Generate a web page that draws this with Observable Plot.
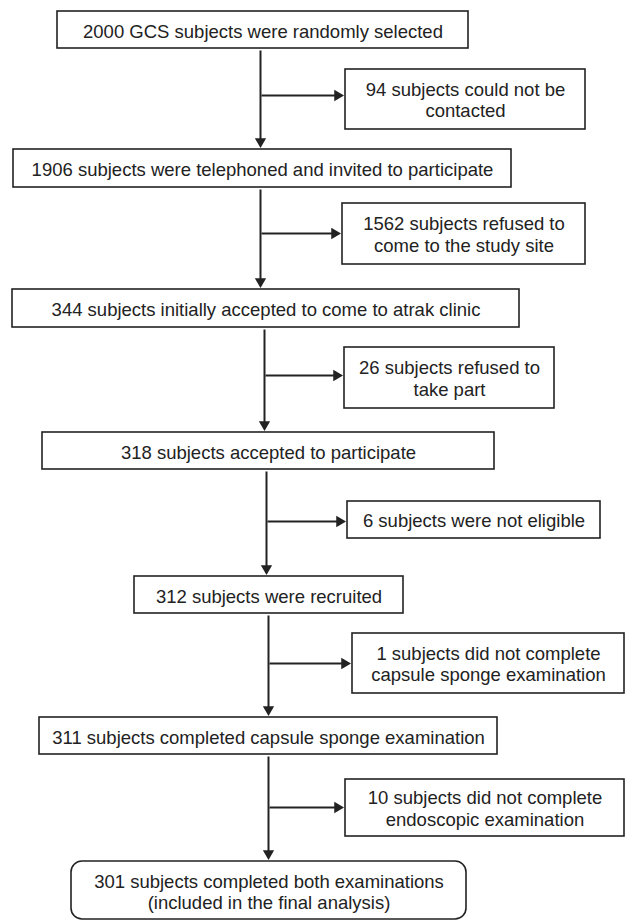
<!DOCTYPE html>
<html>
<head>
<meta charset="utf-8">
<script src="https://cdn.jsdelivr.net/npm/d3@7"></script>
<script src="https://cdn.jsdelivr.net/npm/@observablehq/plot@0.6"></script>
<style>
  html, body { margin: 0; padding: 0; background: #ffffff; }
  svg { display: block; }
</style>
</head>
<body>
<div id="chart"></div>
<script>
// ---- data: flow counts and descriptions ----
const mainCounts = [2000, 1906, 344, 318, 312, 311, 301];
const mainText = [
  "GCS subjects were randomly selected",
  "subjects were telephoned and invited to participate",
  "subjects initially accepted to come to atrak clinic",
  "subjects accepted to participate",
  "subjects were recruited",
  "subjects completed capsule sponge examination",
  "subjects completed both examinations\n(included in the final analysis)"
];
const exclCounts = [94, 1562, 26, 6, 1, 10];
const exclText = [
  "subjects could not be\ncontacted",
  "subjects refused to\ncome to the study site",
  "subjects refused to\ntake part",
  "subjects were not eligible",
  "subjects did not complete\ncapsule sponge examination",
  "subjects did not complete\nendoscopic examination"
];

// ---- layout (page pixel frame) ----
const mainLayout = [
  [57, 468, 11, 48],
  [13, 511, 149, 187],
  [12, 519, 289, 327],
  [42, 494, 432, 469],
  [134, 403, 576, 613],
  [39, 497, 717, 754],
  [71, 466, 861, 919]
];
const exclLayout = [
  [345, 585, 69, 129],
  [342, 585, 203, 264],
  [344, 554, 347, 408],
  [347, 600, 501, 538],
  [352, 624, 633, 693],
  [345, 624, 779, 836]
];
const trunkX = [260, 260, 264, 266, 268, 268];
const branchY = [95, 233, 375, 521, 663, 807];

const W = 625, H = 922;
const headLen = 6;

const mainBoxes = mainCounts.map((c, i) => ({
  label: c + " " + mainText[i],
  x1: mainLayout[i][0], x2: mainLayout[i][1], y1: mainLayout[i][2], y2: mainLayout[i][3],
  final: i === mainCounts.length - 1
}));
const exclBoxes = exclCounts.map((c, i) => ({
  label: c + " " + exclText[i],
  x1: exclLayout[i][0], x2: exclLayout[i][1], y1: exclLayout[i][2], y2: exclLayout[i][3]
}));
const trunks = trunkX.map((x, i) => ({
  x, y1: mainBoxes[i].y2 + 2, y2: mainBoxes[i + 1].y1 - 2
}));
const branches = branchY.map((y, i) => ({
  y, x1: trunkX[i] + 1, x2: exclBoxes[i].x1 - 2
}));

const font = "'Liberation Sans', Arial, Helvetica, sans-serif";
const ink = "#222";

const chart = Plot.plot({
  width: W,
  height: H,
  margin: 0,
  x: {domain: [0, W], range: [0, W], axis: null},
  y: {domain: [0, H], range: [0, H], axis: null},
  style: {background: "#ffffff"},
  marks: [
    // vertical trunk lines
    Plot.link(trunks, {x1: "x", x2: "x", y1: "y1", y2: d => d.y2 - headLen, stroke: ink, strokeWidth: 2}),
    Plot.dot(trunks, {x: "x", y: d => d.y2 - headLen, symbol: "triangle", r: 4.2, rotate: 180, fill: ink, stroke: "none"}),
    // horizontal branch arrows
    Plot.link(branches, {x1: "x1", x2: d => d.x2 - headLen, y1: "y", y2: "y", stroke: ink, strokeWidth: 2}),
    Plot.dot(branches, {x: d => d.x2 - headLen, y: "y", symbol: "triangle", r: 4.2, rotate: 90, fill: ink, stroke: "none"}),
    // boxes
    Plot.rect(mainBoxes.filter(d => !d.final), {x1: "x1", x2: "x2", y1: "y1", y2: "y2", fill: "white", stroke: ink, strokeWidth: 1.6}),
    Plot.rect(mainBoxes.filter(d => d.final), {x1: "x1", x2: "x2", y1: "y1", y2: "y2", rx: 11, fill: "white", stroke: ink, strokeWidth: 1.6}),
    Plot.rect(exclBoxes, {x1: "x1", x2: "x2", y1: "y1", y2: "y2", fill: "white", stroke: ink, strokeWidth: 1.6}),
    // labels
    Plot.text(mainBoxes, {x: d => (d.x1 + d.x2) / 2, y: d => (d.y1 + d.y2) / 2 + 1, text: "label", fontSize: 18.5, fontFamily: font, fill: ink, lineHeight: 1.15, textAnchor: "middle"}),
    Plot.text(exclBoxes, {x: d => (d.x1 + d.x2) / 2, y: d => (d.y1 + d.y2) / 2, text: "label", fontSize: 18.5, fontFamily: font, fill: ink, lineHeight: 1.18, textAnchor: "middle"})
  ]
});
document.getElementById("chart").appendChild(chart);
</script>
</body>
</html>
